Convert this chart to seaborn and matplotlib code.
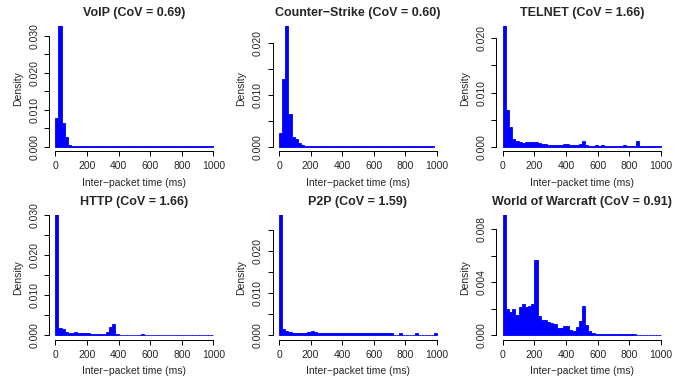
import numpy as np
import pandas as pd
import matplotlib
matplotlib.use("Agg")
import matplotlib.pyplot as plt
import seaborn as sns

# ---------------- data (density per 20 ms bin) ----------------
bin_width = 20
titles = ["VoIP (CoV = 0.69)", "Counter\u2212Strike (CoV = 0.60)", "TELNET (CoV = 1.66)",
          "HTTP (CoV = 1.66)", "P2P (CoV = 1.59)", "World of Warcraft (CoV = 0.91)"]

voip = [0.0077, 0.0335, 0.0064, 0.0026, 0.0004, 0.00005, 0.00005, 0.00005, 0.00005, 0.00005,
        0.00005, 0.00005, 0.00005, 0.00005, 0.00005, 0.00005, 0.00005, 0.00005, 0.00005, 0.00005,
        0.00005, 0.00005, 0.00005, 0.00005, 0.00005, 0.00005, 0.00005, 0.00005, 0.00005, 0.00005,
        0.00005, 0.00005, 0.00005, 0.00005, 0.00005, 0.00005, 0.00005, 0.00005, 0.00005, 0.00005,
        0.00005, 0.00005, 0.00005, 0.00005, 0.00005, 0.00005, 0.00005, 0.00005, 0.00005, 0.00005]
counter_strike = [0.00265, 0.0131, 0.0236, 0.0063, 0.0019, 0.0015, 0.0007, 0.0003, 0.00004, 0.00004,
                  0.00004, 0.00004, 0.00004, 0.00004, 0.00004, 0.00004, 0.00004, 0.00004, 0.00004, 0.00004,
                  0.00004, 0.00004, 0.00004, 0.00004, 0.00004, 0.00004, 0.00004, 0.00004, 0.00004, 0.00004,
                  0.00004, 0.00004, 0.00004, 0.00004, 0.00004, 0.00004, 0.00004, 0.00004, 0.00004, 0.00004,
                  0.00004, 0.00004, 0.00004, 0.00004, 0.00004, 0.00004, 0.00004, 0.00004, 0.00004]
telnet = [0.0235, 0.0067, 0.0036, 0.0014, 0.0011, 0.0008, 0.0007, 0.0008, 0.0008, 0.0008,
          0.0008, 0.0007, 0.0005, 0.0005, 0.0003, 0.0003, 0.0003, 0.0003, 0.0003, 0.0005,
          0.0005, 0.0003, 0.0003, 0.0003, 0.0005, 0.0011, 0.0003, 0.0001, 0.0001, 0.0003,
          0.0001, 0.0003, 0.0001, 0.0001, 0.0001, 0.0001, 0.0001, 0.0001, 0.0003, 0.0001,
          0.0001, 0.0001, 0.0011, 0.0001, 0.0001, 0.0001, 0.0001, 0.0001, 0.0001, 0.0001]
http = [0.0305, 0.0019, 0.0016, 0.00083, 0.00058, 0.00058, 0.00083, 0.00058, 0.00058, 0.00058,
        0.00058, 0.00033, 0.00033, 0.00033, 0.00033, 0.00033, 0.00083, 0.0021, 0.0028, 0.00033,
        0.0001, 0.0001, 0.0001, 0.0001, 0.0001, 0.0001, 0.0001, 0.00033, 0.0001, 0.0001,
        0.0001, 0.0001, 0.0001, 0.0001, 0.0001, 0.0001, 0.0001, 0.0001, 0.0001, 0.0001,
        0.0001, 0.0001, 0.0001, 0.0001, 0.0001, 0.0001, 0.0001, 0.0001, 0.0001, 0.0001]
p2p = [0.029, 0.00158, 0.0011, 0.00087, 0.00063, 0.00063, 0.0004, 0.00063, 0.00063, 0.00087,
       0.0011, 0.00087, 0.00063, 0.0004, 0.0004, 0.0004, 0.0004, 0.00063, 0.0004, 0.00063,
       0.0004, 0.0004, 0.00063, 0.0004, 0.0004, 0.0004, 0.0004, 0.0004, 0.0004, 0.0004,
       0.0004, 0.0004, 0.0004, 0.0004, 0.0004, 0.0004, 0.00016, 0.00016, 0.0004, 0.00016,
       0.00016, 0.00016, 0.00016, 0.0004, 0.00016, 0.00016, 0.00016, 0.00016, 0.00016, 0.0004]
wow = [0.0095, 0.00201, 0.00176, 0.00199, 0.00153, 0.00214, 0.00237, 0.00214, 0.00221, 0.00237,
       0.00569, 0.00146, 0.00116, 0.00116, 0.00101, 0.00093, 0.00086, 0.00055, 0.00055, 0.0007,
       0.0007, 0.0004, 0.00033, 0.00063, 0.00108, 0.00221, 0.00078, 0.00033, 0.00018, 0.0001,
       0.0001, 0.0001, 0.0001, 0.0001, 0.0001, 0.0001, 0.0001, 0.0001, 0.0001, 0.0001,
       0.0001, 0.0001, 0.00003, 0.00003, 0.00003, 0.00003, 0.00003, 0.00003, 0.00003, 0.00003]

series = [voip, counter_strike, telnet, http, p2p, wow]

x_ticks = [0, 200, 400, 600, 800, 1000]
x_ticklabels = ["0", "200", "400", "600", "800", "1000"]

y_ticks = [
    [0.000, 0.005, 0.010, 0.015, 0.020, 0.025, 0.030],
    [0.000, 0.005, 0.010, 0.015, 0.020],
    [0.000, 0.005, 0.010, 0.015, 0.020],
    [0.000, 0.005, 0.010, 0.015, 0.020, 0.025, 0.030],
    [0.000, 0.005, 0.010, 0.015, 0.020, 0.025],
    [0.000, 0.002, 0.004, 0.006, 0.008],
]
y_ticklabels = [
    ["0.000", "", "0.010", "", "0.020", "", "0.030"],
    ["0.000", "", "0.010", "", "0.020"],
    ["0.000", "", "0.010", "", "0.020"],
    ["0.000", "", "0.010", "", "0.020", "", "0.030"],
    ["0.000", "", "0.010", "", "0.020", ""],
    ["0.000", "", "0.004", "", "0.008"],
]
y_tops = [0.0327, 0.02337, 0.02228, 0.0300, 0.0285, 0.00908]

# ---------------- layout ----------------
W, H = 699, 383
sns.set_style("white")
plt.rcParams['font.family'] = ['Liberation Sans', 'DejaVu Sans']
fig = plt.figure(figsize=(W / 100, H / 100), dpi=100)

col_lr = [(49.0, 219.6), (272.7, 443.3), (496.4, 667.3)]
row_tb = [(26.0, 151.3), (215.0, 339.8)]

fs = 7.5
for k in range(6):
    r, c = divmod(k, 3)
    l, rr = col_lr[c]
    t, b = row_tb[r]
    ax = fig.add_axes([l / W, 1 - b / H, (rr - l) / W, (b - t) / H])
    vals = series[k]
    left_edges = [i * bin_width for i in range(len(vals))]
    df = pd.DataFrame({"t": [e + bin_width / 2 for e in left_edges], "d": vals})
    edges = left_edges + [left_edges[-1] + bin_width]
    sns.histplot(data=df, x="t", weights="d", bins=edges, stat="count",
                 color="#0000FF", edgecolor="#0000FF", linewidth=0.6, alpha=1,
                 ax=ax)
    top = y_tops[k]
    ax.set_xlim(-40, 1040)
    ax.set_ylim(-0.03846 * top, top)
    for s in ["top", "right"]:
        ax.spines[s].set_visible(False)
    for s in ["left", "bottom"]:
        ax.spines[s].set_color("black")
        ax.spines[s].set_linewidth(0.7)
    ax.spines["bottom"].set_bounds(0, 1000)
    ax.spines["left"].set_bounds(0, y_ticks[k][-1])
    ax.set_xticks(x_ticks)
    ax.set_xticklabels(x_ticklabels, fontsize=fs)
    ax.set_yticks(y_ticks[k])
    ax.set_yticklabels(y_ticklabels[k], fontsize=fs, rotation=90, va="center")
    ax.tick_params(axis="both", direction="out", length=3.5, width=0.7,
                   color="black", pad=3.5, left=True, bottom=True)
    ax.set_xlabel("Inter\u2212packet time (ms)", fontsize=fs)
    ax.set_ylabel("Density", fontsize=fs)
    hpx = b - t
    wpx = rr - l
    ax.xaxis.set_label_coords(0.5, -31.2 / hpx)
    ax.xaxis.label.set_va("center")
    ax.yaxis.set_label_coords(-31.3 / wpx, 0.5)
    ax.yaxis.label.set_va("center")
    ax.text(0.5, 1 + 13.0 / hpx, titles[k], transform=ax.transAxes,
            ha="center", va="center", fontsize=9, fontweight="bold")
    ax.grid(False)

fig.savefig("out.png", dpi=100)
